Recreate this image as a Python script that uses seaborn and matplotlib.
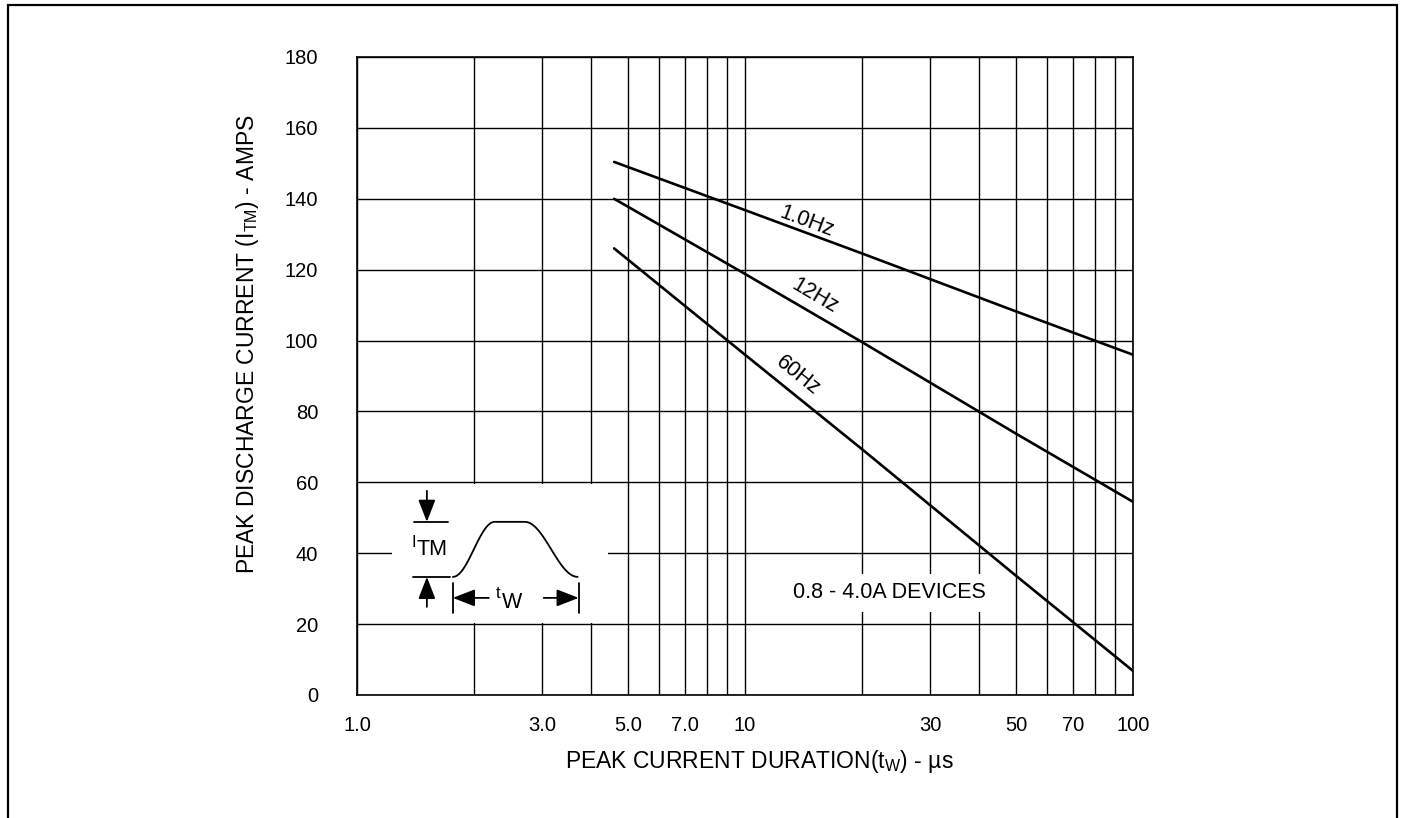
import numpy as np
import pandas as pd
import matplotlib
matplotlib.use("Agg")
import matplotlib.pyplot as plt
from matplotlib.patches import Rectangle
from matplotlib.ticker import FixedLocator, NullFormatter
import seaborn as sns

# ---- data ----
durations_us = [4.6, 10, 20, 50, 100]
current_1hz = [150.4, 136.8, 124.6, 108.2, 96.0]
current_12hz = [140.0, 118.8, 99.6, 73.7, 54.5]
current_60hz = [126.0, 96.0, 69.4, 33.6, 6.8]
series_names = ["1.0Hz", "12Hz", "60Hz"]
label_pos = [(14.4, 133.5, -20.5), (15.1, 112.5, -30.5), (13.7, 90.0, -39.0)]
x_tick_values = [1, 3, 5, 7, 10, 30, 50, 70, 100]
x_tick_labels = ["1.0", "3.0", "5.0", "7.0", "10", "30", "50", "70", "100"]
x_grid_values = [1, 2, 3, 4, 5, 6, 7, 8, 9, 10, 20, 30, 40, 50, 60, 70, 80, 90, 100]
y_tick_values = list(range(0, 181, 20))

df = pd.DataFrame({
    "duration": durations_us * 3,
    "current": current_1hz + current_12hz + current_60hz,
    "series": [s for s in series_names for _ in durations_us],
})

sns.set_style("white")
plt.rcParams["font.family"] = ["Liberation Sans", "DejaVu Sans"]
plt.rcParams["mathtext.fontset"] = "custom"
plt.rcParams["mathtext.rm"] = "Liberation Sans"
plt.rcParams["mathtext.it"] = "Liberation Sans"
plt.rcParams["text.color"] = "black"
plt.rcParams["axes.labelcolor"] = "black"
plt.rcParams["xtick.color"] = "black"
plt.rcParams["ytick.color"] = "black"

W, H = 1401, 818
fig = plt.figure(figsize=(W / 100, H / 100), dpi=100)
ax = fig.add_axes([357 / W, 1 - 695 / H, 776 / W, 638 / H])

sns.lineplot(data=df, x="duration", y="current", hue="series",
             palette=["black"] * 3, linewidth=1.9, legend=False, ax=ax,
             zorder=3)

ax.set_xscale("log")
ax.set_xlim(1, 100)
ax.set_ylim(0, 180)

ax.xaxis.set_major_locator(FixedLocator(x_tick_values))
ax.set_xticklabels(x_tick_labels)
ax.xaxis.set_minor_locator(FixedLocator(x_grid_values))
ax.xaxis.set_minor_formatter(NullFormatter())
ax.set_yticks(y_tick_values)

ax.grid(False)
for xv in x_grid_values:
    ax.axvline(xv, color="black", lw=1.0, zorder=1)
for yv in y_tick_values:
    ax.axhline(yv, color="black", lw=1.0, zorder=1)

ax.tick_params(axis="both", which="both", length=0, labelsize=14.5,
               colors="black", labelcolor="black")
ax.tick_params(axis="x", pad=15)
ax.tick_params(axis="y", pad=28)
for sp in ax.spines.values():
    sp.set_color("black")
    sp.set_linewidth(1.2)

ax.set_xlabel(r"PEAK CURRENT DURATION(t$_{\mathrm{W}}$) - µs", fontsize=16.5,
              color="black")
ax.set_ylabel(r"PEAK DISCHARGE CURRENT (I$_{\mathrm{TM}}$) - AMPS", fontsize=16.5,
              color="black")
ax.xaxis.set_label_coords(0.519, -0.083)
ax.yaxis.set_label_coords(-0.124, 0.55)

for name, (lx, ly, rot) in zip(series_names, label_pos):
    ax.text(lx, ly, name, rotation=rot, rotation_mode="anchor",
            ha="center", va="center", fontsize=15.5, color="black", zorder=4)

ax.text(23.6, 28.8, "0.8 - 4.0A DEVICES", ha="center", va="center", fontsize=15.5,
        color="black", zorder=4,
        bbox=dict(facecolor="white", edgecolor="none", pad=6))

# ---- pulse diagram inset ----
ins = ax.inset_axes([0.045, 0.113, 0.278, 0.218], zorder=5)
ins.set_facecolor("white")
ins.set_xlim(0, 216)
ins.set_ylim(139, 0)
ins.set_xticks([])
ins.set_yticks([])
for sp in ins.spines.values():
    sp.set_visible(False)

arrow_kw = dict(arrowstyle="-|>,head_length=0.9,head_width=0.35", color="black",
                lw=1.3, shrinkA=0, shrinkB=0, mutation_scale=15)
ins.annotate("", xy=(35, 38), xytext=(35, 7), arrowprops=arrow_kw)
ins.annotate("", xy=(35, 93), xytext=(35, 123), arrowprops=arrow_kw)
ins.plot([22, 56], [38, 38], color="black", lw=1.3)
ins.plot([21, 58], [93, 93], color="black", lw=1.3)
ins.text(20, 59, "I", fontsize=12, ha="left", va="center")
ins.text(25, 66, "TM", fontsize=15.5, ha="left", va="center")

t1 = np.linspace(0, 1, 40)
rise_x = 61 + 42 * t1
rise_y = 93 - 55 * (0.5 - 0.5 * np.cos(np.pi * t1))
flat_x = np.array([103, 133])
flat_y = np.array([38, 38])
fall_x = 133 + 53 * t1
fall_y = 38 + 55 * (0.5 - 0.5 * np.cos(np.pi * t1))
ins.plot(np.concatenate([rise_x, flat_x, fall_x]),
         np.concatenate([rise_y, flat_y, fall_y]), color="black", lw=1.3)

ins.plot([61, 61], [99, 129], color="black", lw=1.3)
ins.plot([187, 187], [99, 129], color="black", lw=1.3)
ins.annotate("", xy=(61, 114), xytext=(97, 114), arrowprops=arrow_kw)
ins.annotate("", xy=(187, 114), xytext=(152, 114), arrowprops=arrow_kw)
ins.text(104, 110, "t", fontsize=12, ha="left", va="center")
ins.text(110, 119, "W", fontsize=15.5, ha="left", va="center")

# ---- outer frame ----
fig.patches.append(Rectangle((8 / W, -0.05), (1397 - 8) / W, 1.05 - 5 / H,
                             transform=fig.transFigure, fill=False,
                             edgecolor="black", lw=1.6))

fig.savefig("out.png", dpi=100, facecolor="white")
